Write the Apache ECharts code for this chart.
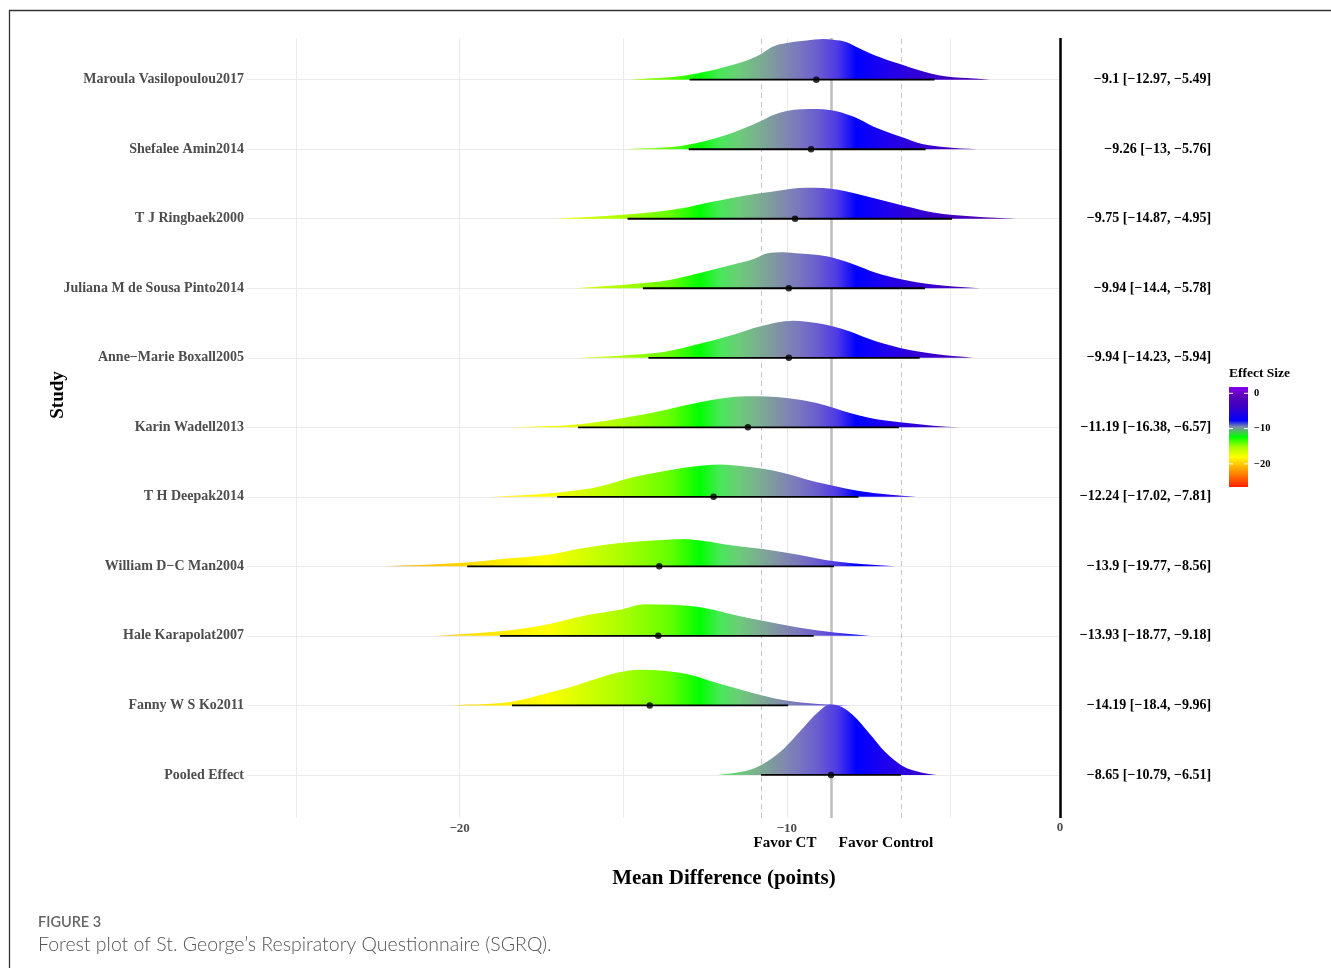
<!DOCTYPE html>
<html>
<head>
<meta charset="utf-8">
<script src="https://cdn.jsdelivr.net/npm/echarts@6/dist/echarts.min.js"></script>
<style>html,body{margin:0;padding:0;background:#fff}#chart{width:1331px;height:968px}</style>
</head>
<body>
<div id="chart"></div>
<script>
// ---------------- DATA ----------------
const studies = ['Maroula Vasilopoulou2017', 'Shefalee Amin2014', 'T J Ringbaek2000',
  'Juliana M de Sousa Pinto2014', 'Anne\u2212Marie Boxall2005', 'Karin Wadell2013',
  'T H Deepak2014', 'William D\u2212C Man2004', 'Hale Karapolat2007', 'Fanny W S Ko2011', 'Pooled Effect'];
const meanDiff = [-9.1, -9.26, -9.75, -9.94, -9.94, -11.19, -12.24, -13.9, -13.93, -14.19, -8.65];
const ciLower  = [-12.97, -13, -14.87, -14.4, -14.23, -16.38, -17.02, -19.77, -18.77, -18.4, -10.79];
const ciUpper  = [-5.49, -5.76, -4.95, -5.78, -5.94, -6.57, -7.81, -8.56, -9.18, -9.96, -6.51];

// density ridges: [mean difference, ridge height (in row units)]
const densMaroula = [[-14.82,0],[-12.97,.072],[-11.95,.177],[-10.83,.36],[-10.42,.479],[-10.01,.528],[-9.40,.565],[-8.89,.586],[-8.58,.576],[-8.17,.54],[-7.87,.47],[-7.36,.36],[-6.54,.226],[-5.83,.119],[-5.32,.062],[-4.50,.024],[-3.79,0]];
const densShefalee = [[-14.88,0],[-13.07,.062],[-11.95,.191],[-11.44,.278],[-10.83,.399],[-10.42,.494],[-10.01,.551],[-9.09,.58],[-8.69,.565],[-7.97,.47],[-7.36,.327],[-6.54,.183],[-5.83,.072],[-5.12,.029],[-4.20,0]];
const densRingbaek = [[-17.09,0],[-15.01,.058],[-13.07,.163],[-12.46,.226],[-11.44,.321],[-10.42,.393],[-9.40,.446],[-8.89,.442],[-7.97,.37],[-7.36,.298],[-6.34,.177],[-5.53,.091],[-4.30,.033],[-2.98,0]];
const densJuliana = [[-16.48,0],[-14.70,.062],[-13.68,.111],[-12.66,.22],[-11.64,.341],[-10.93,.436],[-10.62,.499],[-10.11,.518],[-9.60,.499],[-8.79,.46],[-8.07,.364],[-7.26,.22],[-6.54,.134],[-5.53,.053],[-4.10,0]];
const densAnneMarie = [[-16.33,0],[-14.70,.043],[-13.68,.091],[-12.66,.201],[-11.64,.331],[-10.83,.45],[-9.81,.532],[-9.09,.499],[-8.07,.378],[-7.56,.283],[-6.54,.14],[-5.53,.058],[-4.30,0]];
const densKarin = [[-18.42,0],[-16.43,.039],[-14.70,.158],[-13.68,.254],[-12.66,.36],[-11.23,.446],[-10.01,.422],[-9.09,.35],[-8.07,.206],[-7.56,.144],[-6.54,.072],[-5.53,.024],[-4.71,0]];
const densDeepak = [[-19.04,0],[-17.07,.058],[-15.65,.154],[-14.89,.259],[-14.01,.345],[-12.92,.432],[-12.05,.465],[-11.28,.436],[-10.19,.355],[-9.10,.212],[-8.55,.154],[-7.79,.082],[-6.91,.034],[-6.04,0]];
const densWilliam = [[-22.29,0],[-20.02,.047],[-18.38,.119],[-17.29,.168],[-16.20,.263],[-15.11,.335],[-14.01,.374],[-13.14,.393],[-12.70,.374],[-11.83,.312],[-10.74,.249],[-9.65,.168],[-8.55,.072],[-6.70,0]];
const densHale = [[-20.79,0],[-18.93,.058],[-17.29,.168],[-16.20,.288],[-15.11,.374],[-14.34,.456],[-13.47,.446],[-12.60,.407],[-11.83,.327],[-10.74,.216],[-9.65,.119],[-8.55,.047],[-7.46,0]];
const densFanny = [[-20.24,0],[-18.33,.058],[-17.30,.177],[-16.47,.283],[-15.75,.393],[-15.13,.475],[-14.51,.514],[-13.68,.494],[-12.96,.442],[-12.13,.321],[-11.10,.187],[-10.07,.072],[-9.04,.019],[-8.11,0]];
const densPooled = [[-12.13,0],[-11.6,.029],[-11.10,.076],[-10.59,.197],[-10.07,.388],[-9.55,.652],[-9.04,.905],[-8.69,1.012],[-8.32,.975],[-8.00,.868],[-7.49,.604],[-6.97,.317],[-6.45,.125],[-5.9,.036],[-5.42,0]];
const densities = [densMaroula, densShefalee, densRingbaek, densJuliana, densAnneMarie, densKarin,
  densDeepak, densWilliam, densHale, densFanny, densPooled];

const xTickLabels = [-20, -10];
const xGridValues = [-25, -20, -15, -10, -5];
const legendTicks = [0, -10, -20];
const favorLabels = ['Favor CT', 'Favor Control'];

// ---------------- LAYOUT / STYLE ----------------
const X_MIN = -26.5, X_MAX = -1.45, ZERO_LINE = -1.65;
const Y_MIN = 0.38, Y_MAX = 11.6;
const n = studies.length;
const rowOf = i => n - i;
const rows = studies.map((s, i) => rowOf(i));
const fmt = v => String(v).replace('-', '\u2212');
const SERIF = 'Liberation Serif, Times New Roman, serif';

const fillStops = [
  [-27, '#FF2000'], [-22.3, '#FFA000'], [-19.5, '#FFE000'], [-17.35, '#FFFF00'], [-15.0, '#A8FF00'],
  [-13.6, '#66FF00'], [-12.65, '#00FF00'], [-12.05, '#48E858'], [-11.45, '#6DCB79'], [-10.86, '#7AAE90'],
  [-10.26, '#8191A6'], [-9.66, '#7A78BE'], [-9.06, '#6A5CD0'], [-8.46, '#4E3AE6'], [-7.87, '#0000FF'],
  [-7.0, '#1E00EE'], [-6.0, '#3300D4'], [-5.0, '#4200C0'], [-4.0, '#4C00B4'], [-3, '#5400AE'], [0, '#6000B0']
];

function monoPath(pts, base) {
  const N = pts.length, d = [], h = [], m = [];
  for (let i = 0; i < N - 1; i++) {
    h[i] = pts[i + 1][0] - pts[i][0];
    d[i] = (pts[i + 1][1] - pts[i][1]) / h[i];
  }
  m[0] = d[0]; m[N - 1] = d[N - 2];
  for (let i = 1; i < N - 1; i++) {
    if (d[i - 1] * d[i] <= 0) m[i] = 0;
    else {
      let s = (d[i - 1] * h[i] + d[i] * h[i - 1]) / (h[i - 1] + h[i]);
      const lim = 3 * Math.min(Math.abs(d[i - 1]), Math.abs(d[i]));
      if (Math.abs(s) > lim) s = Math.sign(s) * lim;
      m[i] = s;
    }
  }
  let p = 'M' + pts[0][0] + ' ' + base + ' L' + pts[0][0] + ' ' + pts[0][1];
  for (let i = 0; i < N - 1; i++) {
    const x0 = pts[i][0], y0 = pts[i][1], x1 = pts[i + 1][0], y1 = pts[i + 1][1], hh = h[i] / 3;
    p += ' C' + (x0 + hh) + ' ' + (y0 + m[i] * hh) + ' ' + (x1 - hh) + ' ' + (y1 - m[i + 1] * hh) + ' ' + x1 + ' ' + y1;
  }
  p += ' L' + pts[N - 1][0] + ' ' + base + ' Z';
  return p;
}

const chart = echarts.init(document.getElementById('chart'), null, {renderer: 'canvas'});

const ridgeData = studies.map((s, i) => [meanDiff[i], rowOf(i), i]);
const ciData = studies.map((s, i) => [ciLower[i], ciUpper[i], rowOf(i)]);
const pointData = studies.map((s, i) => [meanDiff[i], rowOf(i)]);
const pooled = n - 1;

const gridLineData = xGridValues.map(v => ({xAxis: v}))
  .concat(rows.map(r => [{coord: [X_MIN, r]}, {coord: [ZERO_LINE, r]}]));

const option = {
  animation: false,
  backgroundColor: '#ffffff',
  grid: {left: 247, right: 264.4, top: 38, bottom: 150},
  xAxis: {
    type: 'value', min: X_MIN, max: X_MAX,
    axisLine: {show: false}, axisTick: {show: false}, splitLine: {show: false},
    axisLabel: {customValues: xTickLabels, formatter: fmt, fontFamily: SERIF, fontWeight: 'bold',
      fontSize: 13, color: '#4d4d4d', margin: 4}
  },
  yAxis: [{
    type: 'value', min: Y_MIN, max: Y_MAX,
    axisLine: {show: false}, axisTick: {show: false}, splitLine: {show: false},
    axisLabel: {customValues: rows, formatter: v => studies[n - Math.round(v)], fontFamily: SERIF,
      fontWeight: 'bold', fontSize: 14, color: '#4d4d4d', margin: 3}
  }, {
    type: 'value', position: 'right', min: Y_MIN, max: Y_MAX,
    axisLine: {show: false}, axisTick: {show: false}, splitLine: {show: false},
    axisLabel: {customValues: rows, align: 'right', margin: 144.5, fontFamily: SERIF, fontWeight: 'bold',
      fontSize: 14, color: '#000',
      formatter: v => { const i = n - Math.round(v); return fmt(meanDiff[i]) + ' [' + fmt(ciLower[i]) + ', ' + fmt(ciUpper[i]) + ']'; }}
  }],
  series: [
    { // grid lines
      type: 'scatter', data: [], z: 1, silent: true,
      markLine: {z: 1, silent: true, symbol: ['none', 'none'], animation: false, label: {show: false},
        lineStyle: {color: '#ebebeb', width: 1, type: 'solid'}, data: gridLineData}
    },
    { // reference lines from pooled estimate
      type: 'scatter', data: [], z: 2, silent: true,
      markLine: {z: 2, silent: true, symbol: ['none', 'none'], animation: false, label: {show: false},
        data: [
          {xAxis: meanDiff[pooled], lineStyle: {color: '#bebebe', width: 2.5, type: 'solid'}},
          {xAxis: ciLower[pooled], lineStyle: {color: '#c4c4c4', width: 1, type: [5, 4]}},
          {xAxis: ciUpper[pooled], lineStyle: {color: '#c4c4c4', width: 1, type: [5, 4]}}
        ]}
    },
    { // density ridges
      type: 'custom', z: 3, silent: true, data: ridgeData,
      encode: {x: 0, y: 1},
      renderItem: function (params, api) {
        const idx = api.value(2), row = api.value(1);
        const dens = densities[idx];
        const pts = dens.map(p => api.coord([p[0], row + p[1]]));
        const base = api.coord([dens[0][0], row])[1];
        const px0 = api.coord([X_MIN, row])[0], px1 = api.coord([X_MAX, row])[0];
        const stops = fillStops.map(s => ({offset: Math.max(0, Math.min(1, (s[0] - X_MIN) / (X_MAX - X_MIN))), color: s[1]}));
        return {
          type: 'path',
          shape: {pathData: monoPath(pts, base)},
          style: {fill: new echarts.graphic.LinearGradient(px0, 0, px1, 0, stops, true), stroke: null}
        };
      }
    },
    { // confidence intervals
      type: 'custom', z: 4, silent: true, data: ciData,
      encode: {x: [0, 1], y: 2},
      renderItem: function (params, api) {
        const a = api.coord([api.value(0), api.value(2)]);
        const b = api.coord([api.value(1), api.value(2)]);
        return {type: 'line', shape: {x1: a[0], y1: a[1], x2: b[0], y2: b[1]},
          style: {stroke: '#000', lineWidth: 1.8}};
      }
    },
    { // point estimates
      type: 'scatter', z: 5, silent: true, data: pointData, symbolSize: 6.5,
      itemStyle: {color: '#000'}
    },
    { // right panel separator
      type: 'scatter', data: [], z: 6, silent: true,
      markLine: {z: 6, silent: true, symbol: ['none', 'none'], animation: false,
        lineStyle: {color: '#000', width: 2.5, type: 'solid'},
        label: {show: true, position: 'start', formatter: '0', fontFamily: SERIF, fontWeight: 'bold',
          fontSize: 13, color: '#4d4d4d', distance: 3},
        data: [{xAxis: ZERO_LINE}]}
    }
  ],
  graphic: [
    {type: 'rect', shape: {x: 9.5, y: 10.5, width: 1400, height: 1000}, style: {fill: null, stroke: '#333', lineWidth: 1.3}, silent: true},
    {type: 'text', x: 58, y: 395, rotation: Math.PI / 2,
      style: {text: 'Study', font: 'bold 19px ' + SERIF, fill: '#000', align: 'center', verticalAlign: 'middle'}},
    {type: 'text', x: 724, y: 879,
      style: {text: 'Mean Difference (points)', font: 'bold 21px ' + SERIF, fill: '#000', align: 'center', verticalAlign: 'middle'}},
    {type: 'text', x: 785, y: 843,
      style: {text: favorLabels[0], font: 'bold 15px ' + SERIF, fill: '#000', align: 'center', verticalAlign: 'middle'}},
    {type: 'text', x: 886, y: 843,
      style: {text: favorLabels[1], font: 'bold 15.5px ' + SERIF, fill: '#000', align: 'center', verticalAlign: 'middle'}},
    {type: 'text', x: 1229, y: 374,
      style: {text: 'Effect Size', font: 'bold 13.5px ' + SERIF, fill: '#000', align: 'left', verticalAlign: 'middle'}},
    {type: 'rect', shape: {x: 1229, y: 387, width: 19, height: 100},
      style: {fill: new echarts.graphic.LinearGradient(0, 0, 0, 1, [
        {offset: 0, color: '#8400F0'}, {offset: 0.1, color: '#5A00B8'}, {offset: 0.2, color: '#3C00C4'},
        {offset: 0.333, color: '#0000FF'}, {offset: 0.4, color: '#8090A8'}, {offset: 0.5, color: '#00FF00'},
        {offset: 0.6, color: '#A8FF00'}, {offset: 0.7, color: '#FFFF00'}, {offset: 0.82, color: '#FFA500'},
        {offset: 1, color: '#FF2000'}])}},
  ].concat(legendTicks.flatMap(t => {
    const y = 393.3 + (-t) * 3.53;
    return [
      {type: 'line', shape: {x1: 1229, y1: y, x2: 1233, y2: y}, style: {stroke: '#fff', lineWidth: 1}},
      {type: 'line', shape: {x1: 1244, y1: y, x2: 1248, y2: y}, style: {stroke: '#fff', lineWidth: 1}},
      {type: 'text', x: 1254, y: y, style: {text: fmt(t), font: 'bold 10.5px ' + SERIF, fill: '#000', align: 'left', verticalAlign: 'middle'}}
    ];
  })).concat([
    {type: 'text', x: 38, y: 922,
      style: {text: 'FIGURE 3', font: '600 14.5px Lato, "Open Sans", sans-serif', fill: '#666', align: 'left', verticalAlign: 'middle'}},
    {type: 'text', x: 38, y: 945,
      style: {text: 'Forest plot of St. George\u2019s Respiratory Questionnaire (SGRQ).', font: '300 19.5px Lato, "Open Sans", sans-serif', fill: '#555', align: 'left', verticalAlign: 'middle'}}
  ])
};
chart.setOption(option);
</script>
</body>
</html>
